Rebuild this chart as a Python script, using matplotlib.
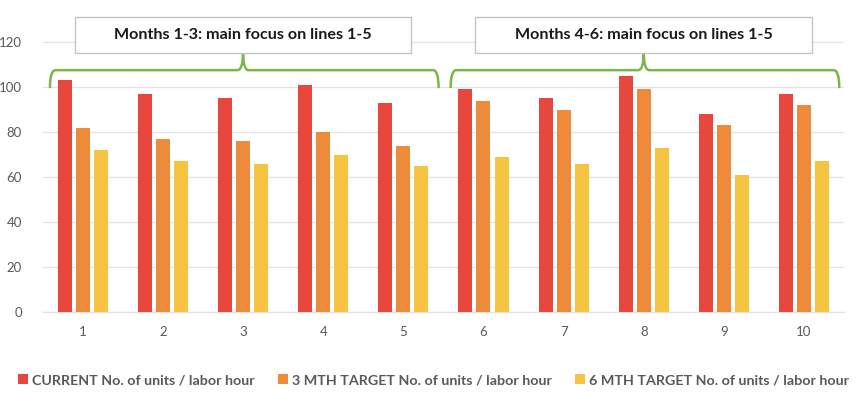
import matplotlib.pyplot as plt
import numpy as np
from matplotlib.patches import Rectangle, PathPatch
from matplotlib.path import Path

plt.rcParams['font.family'] = ['Lato', 'DejaVu Sans']

lines = ['1', '2', '3', '4', '5', '6', '7', '8', '9', '10']
current = [103, 97, 95, 101, 93, 99, 95, 105, 88, 97]
target_3m = [82, 77, 76, 80, 74, 94, 90, 99, 83, 92]
target_6m = [72, 67, 66, 70, 65, 69, 66, 73, 61, 67]
series_labels = ['CURRENT No. of units / labor hour',
                 '3 MTH TARGET No. of units / labor hour',
                 '6 MTH TARGET No. of units / labor hour']
group_titles = ['Months 1-3: main focus on lines 1-5',
                'Months 4-6: main focus on lines 1-5']
group_spans = [(0, 4), (5, 9)]

COLORS = ['#E8473D', '#EE8B3A', '#F6C441']
GREEN = '#7DB54B'
TEXT = '#595959'

fig = plt.figure(figsize=(8.58, 3.98), dpi=100)
ax = fig.add_axes([0.0498, 0.216, 0.934, 0.7067])

x = np.arange(len(lines))
w = 0.175
off = 0.225
for i, vals in enumerate([current, target_3m, target_6m]):
    ax.bar(x + (i - 1) * off, vals, width=w, color=COLORS[i],
           label=series_labels[i], zorder=3)

ax.set_xlim(-0.5, len(lines) - 0.5)
ax.set_ylim(0, 125)
ax.set_yticks(range(0, 121, 20))
ax.set_xticks(x)
ax.set_xticklabels(lines)
ax.tick_params(length=0, colors=TEXT, labelsize=9.5)
ax.tick_params(axis='y', pad=15)
ax.tick_params(axis='x', pad=10)
ax.grid(axis='y', color='#e3e3e3', linewidth=0.9, zorder=0)
for s in ['top', 'right', 'left']:
    ax.spines[s].set_visible(False)
ax.spines['bottom'].set_color('#e3e3e3')
ax.spines['bottom'].set_linewidth(0.9)

# brackets + boxes over each group
y_end, y_h, y_tip = 99.5, 107.5, 115.5
dx = 0.07
for (a, b), title in zip(group_spans, group_titles):
    x0, x1 = a - 0.41, b + 0.44
    xc = (a + b) / 2
    verts = [(x0, y_end), (x0, y_h), (x0 + dx, y_h),
             (xc - dx, y_h), (xc, y_h), (xc, y_tip),
             (xc, y_h), (xc + dx, y_h),
             (x1 - dx, y_h), (x1, y_h), (x1, y_end)]
    codes = [Path.MOVETO, Path.CURVE3, Path.CURVE3,
             Path.LINETO, Path.CURVE3, Path.CURVE3,
             Path.CURVE3, Path.CURVE3,
             Path.LINETO, Path.CURVE3, Path.CURVE3]
    ax.add_patch(PathPatch(Path(verts, codes), fill=False, edgecolor=GREEN,
                           linewidth=1.8, clip_on=False, zorder=4))
    ax.add_patch(Rectangle((xc - 2.1, 115.3), 4.2, 16, facecolor='white',
                           edgecolor='#c4c4c4', linewidth=1.0,
                           clip_on=False, zorder=5))
    ax.text(xc, 123.3, title, ha='center', va='center', fontsize=11.6,
            fontweight='bold', color='#1a1a1a', zorder=6)

fig.legend(loc='center', bbox_to_anchor=(0.505, 0.045), ncol=3, frameon=False,
           handlelength=0.7, handleheight=0.7, handletextpad=0.3,
           columnspacing=1.6, labelcolor=TEXT,
           prop={'weight': 'bold', 'size': 10.3})

fig.savefig('out.png', dpi=100)
